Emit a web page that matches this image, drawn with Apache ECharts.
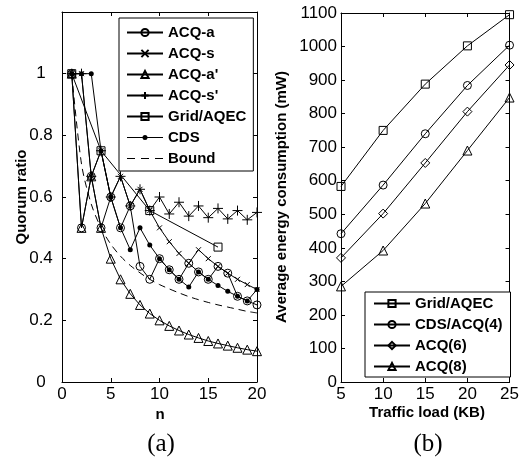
<!DOCTYPE html>
<html><head><meta charset="utf-8">
<script src="https://cdn.jsdelivr.net/npm/echarts@6/dist/echarts.min.js"></script>
<style>html,body{margin:0;padding:0;background:#fff}#c{width:522px;height:465px}</style>
</head><body><div id="c"></div>
<script>
// ---- Panel (a): quorum ratio vs n ----
const nValues = [1,2,3,4,5,6,7,8,9,10,11,12,13,14,15,16,17,18,19,20];
const acqA   = [1,0.5,0.667,0.5,0.6,0.5,0.571,0.375,0.333,0.4,0.364,0.333,0.385,0.357,0.333,0.375,0.353,0.278,0.263,0.25];
const acqS   = [1,1,0.667,0.75,0.6,0.667,0.571,0.625,0.556,0.5,0.455,0.417,0.385,0.429,0.4,0.375,0.353,0.333,0.316,0.3];
const acqA2  = [1,0.5,0.667,0.5,0.4,0.333,0.286,0.25,0.222,0.2,0.182,0.167,0.154,0.143,0.133,0.125,0.118,0.111,0.105,0.1];
const acqS2  = [1,1,0.667,0.75,0.6,0.667,0.571,0.625,0.556,0.6,0.545,0.583,0.538,0.571,0.533,0.563,0.529,0.556,0.526,0.55];
const gridN  = [1,4,9,16];
const gridQ  = [1,0.75,0.556,0.4375];
const cdsQ   = [1,1,1,0.75,0.6,0.5,0.429,0.5,0.444,0.4,0.364,0.333,0.308,0.357,0.333,0.313,0.294,0.278,0.263,0.3];
const boundQ = [1,0.707,0.577,0.5,0.447,0.408,0.378,0.354,0.333,0.316,0.302,0.289,0.277,0.267,0.258,0.25,0.243,0.236,0.229,0.224];
// ---- Panel (b): energy vs traffic load ----
const loadKB = [5,10,15,20,25];
const gridE  = [583,750,888,1002,1095];
const cdsE   = [442,587,740,884,1004];
const acq6E  = [370,502,653,806,945];
const acq8E  = [285,392,532,690,848];

const FONT = '"Liberation Sans", Arial, sans-serif';
const X_PATH = 'path://M0,0L10,10M10,0L0,10';
const PLUS_PATH = 'path://M5,0L5,10M0,5L10,5';
const CDS_ICON = 'path://M0,2.1h36v0.8h-36zM20.5,2.5a2.5,2.5 0 1,1 -5,0a2.5,2.5 0 1,1 5,0z';
const DASH_ICON = 'path://M0,0h8v1.1h-8zM14,0h8v1.1h-8zM28,0h8v1.1h-8z';
const pairs = (xs, ys) => xs.map((x, i) => [x, ys[i]]);
const openStyle = {color: 'rgba(0,0,0,0)', borderColor: '#000', borderWidth: 1};

function ser(name, xs, ys, symbol, size, gi, opts) {
  const s = {
    name, type: 'line', xAxisIndex: gi * 2, yAxisIndex: gi * 2,
    data: pairs(xs, ys), symbol, symbolSize: size, showSymbol: true,
    lineStyle: {color: '#000', width: 1},
    itemStyle: Object.assign({}, openStyle),
    emphasis: {disabled: true}, animation: false, z: 3
  };
  return Object.assign(s, opts || {});
}

function xAx(gi, min, max, interval, top) {
  return {
    type: 'value', gridIndex: gi, min, max, interval, position: top ? 'top' : 'bottom',
    axisLine: {show: true, onZero: false, lineStyle: {color: '#000', width: 1}},
    axisTick: {show: true, inside: true, length: 4, lineStyle: {color: '#000'}},
    axisLabel: {show: !top, color: '#000', fontFamily: FONT, fontSize: 17, margin: 4},
    splitLine: {show: false}
  };
}
function yAx(gi, min, max, interval, right, labelOpts) {
  return {
    type: 'value', gridIndex: gi, min, max, interval, position: right ? 'right' : 'left',
    axisLine: {show: true, onZero: false, lineStyle: {color: '#000', width: 1}},
    axisTick: {show: true, inside: true, length: 4, lineStyle: {color: '#000'}},
    axisLabel: Object.assign({show: !right, color: '#000', fontFamily: FONT, fontSize: 17}, labelOpts || {}),
    splitLine: {show: false}
  };
}

const legendText = {color: '#000', fontFamily: FONT, fontSize: 15, fontWeight: 'bold'};

const option = {
  backgroundColor: '#fff',
  animation: false,
  grid: [
    {left: 62, top: 12, width: 195, height: 370},
    {left: 341, top: 13, width: 172, height: 369}
  ],
  xAxis: [
    xAx(0, 0, 20, 5, false), xAx(0, 0, 20, 5, true),
    xAx(1, 5, 25, 5, false), xAx(1, 5, 25, 5, true)
  ],
  yAxis: [
    yAx(0, 0, 1.2, 0.2, false, {align: 'center', margin: 21,
      formatter: v => (v > 1.1 ? '' : String(+v.toFixed(1)))}),
    yAx(0, 0, 1.2, 0.2, true),
    yAx(1, 0, 1100, 100, false, {margin: 4, formatter: v => String(v)}),
    yAx(1, 0, 1100, 100, true)
  ],
  legend: [
    {
      orient: 'vertical', left: 119, top: 18, itemWidth: 36, itemHeight: 9, itemGap: 6,
      padding: [7, 7, 5, 7], borderColor: '#000', borderWidth: 1, borderRadius: 0,
      backgroundColor: '#fff', textStyle: legendText, selectedMode: false,
      data: ['ACQ-a', 'ACQ-s', "ACQ-a'", "ACQ-s'", 'Grid/AQEC',
        {name: 'CDS', icon: CDS_ICON}, {name: 'Bound', icon: DASH_ICON}]
    },
    {
      orient: 'vertical', left: 365, top: 292, itemWidth: 36, itemHeight: 9, itemGap: 6,
      padding: [4, 8, 3, 8], borderColor: '#000', borderWidth: 1, borderRadius: 0,
      backgroundColor: '#fff', textStyle: legendText, selectedMode: false,
      data: ['Grid/AQEC', 'CDS/ACQ(4)', 'ACQ(6)', 'ACQ(8)']
    }
  ],
  series: [
    ser('ACQ-a', nValues, acqA, 'circle', 8, 0),
    ser('ACQ-s', nValues, acqS, X_PATH, 5, 0),
    ser("ACQ-a'", nValues, acqA2, 'triangle', 9, 0),
    ser("ACQ-s'", nValues, acqS2, PLUS_PATH, 10, 0),
    ser('Grid/AQEC', gridN, gridQ, 'rect', 8, 0),
    ser('CDS', nValues, cdsQ, 'circle', 5, 0, {itemStyle: {color: '#000', borderColor: '#000', borderWidth: 0}}),
    ser('Bound', nValues, boundQ, 'none', 0, 0, {showSymbol: false, smooth: 0.3,
      itemStyle: {color: '#000', borderWidth: 0},
      lineStyle: {color: '#000', width: 1, type: [7, 5]}}),
    ser('Grid/AQEC', loadKB, gridE, 'rect', 8, 1),
    ser('CDS/ACQ(4)', loadKB, cdsE, 'circle', 8, 1),
    ser('ACQ(6)', loadKB, acq6E, 'diamond', 9, 1),
    ser('ACQ(8)', loadKB, acq8E, 'triangle', 9, 1)
  ],
  graphic: [
    {type: 'text', x: 22, y: 197, rotation: Math.PI / 2,
      style: {text: 'Quorum ratio', fill: '#000', font: 'bold 15px ' + FONT, align: 'center', verticalAlign: 'middle'}},
    {type: 'text', x: 160, y: 415, style: {text: 'n', fill: '#000', font: 'bold 15px ' + FONT, align: 'center', verticalAlign: 'middle'}},
    {type: 'text', x: 282, y: 197, rotation: Math.PI / 2,
      style: {text: 'Average energy consumption (mW)', fill: '#000', font: 'bold 15px ' + FONT, align: 'center', verticalAlign: 'middle'}},
    {type: 'text', x: 427, y: 413, style: {text: 'Traffic load (KB)', fill: '#000', font: 'bold 15px ' + FONT, align: 'center', verticalAlign: 'middle'}},
    {type: 'text', x: 161, y: 444, style: {text: '(a)', fill: '#000', font: '25px "Liberation Serif", "Times New Roman", serif', align: 'center', verticalAlign: 'middle'}},
    {type: 'text', x: 428, y: 444, style: {text: '(b)', fill: '#000', font: '25px "Liberation Serif", "Times New Roman", serif', align: 'center', verticalAlign: 'middle'}}
  ]
};
const chart = echarts.init(document.getElementById('c'));
chart.setOption(option);
</script>
</body></html>
